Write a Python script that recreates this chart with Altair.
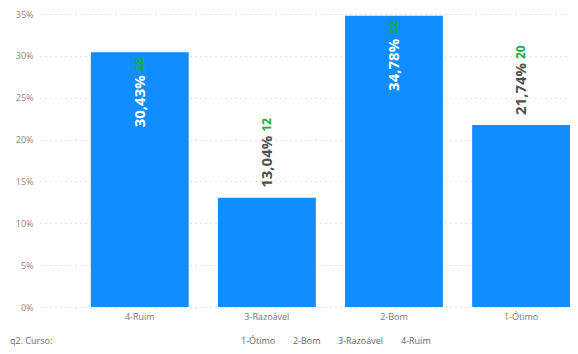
import altair as alt
import pandas as pd

# Data
categorias = ["4-Ruim", "3-Razoável", "2-Bom", "1-Ótimo"]
percentuais = [0.3043, 0.1304, 0.3478, 0.2174]
contagens = [28, 12, 32, 20]
legenda = ["1-Ótimo", "2-Bom", "3-Razoável", "4-Ruim"]
y_ticks = [0, 0.05, 0.10, 0.15, 0.20, 0.25, 0.30, 0.35]
rotulo_legenda = "q2. Curso:"

df = pd.DataFrame({
    "categoria": categorias,
    "pct": percentuais,
    "n": contagens,
})
df["rotulo"] = [f"{p*100:.2f}".replace(".", ",") + "%" for p in percentuais]
df["cont"] = [str(c) for c in contagens]

FONT = "Open Sans"
BLUE = "#118DFF"
GREEN = "#1AAB40"

base = alt.Chart(df).encode(
    x=alt.X(
        "categoria:N",
        sort=categorias,
        title=None,
        scale=alt.Scale(paddingInner=0.23, paddingOuter=0.2, align=1),
        axis=alt.Axis(labelAngle=0, domain=False, ticks=False, labelPadding=5,
                      labelFontSize=9, labelColor="#777777", labelFont=FONT),
    ),
    y=alt.Y(
        "pct:Q",
        title=None,
        scale=alt.Scale(domain=[0, 0.35]),
        axis=alt.Axis(values=y_ticks, format=".0%", domain=False, ticks=False,
                      labelPadding=7, labelFontSize=9, labelColor="#888888",
                      labelFont=FONT, grid=True, gridDash=[1, 4],
                      gridColor="#c8c8c8", gridWidth=1),
    ),
)

bars = base.mark_bar(stroke=None).encode(
    color=alt.Color(
        "categoria:N",
        scale=alt.Scale(domain=legenda, range=[BLUE] * len(legenda)),
        legend=alt.Legend(
            title=None, orient="none", direction="horizontal",
            legendX=192, legendY=322, symbolSize=0, symbolOpacity=0,
            symbolStrokeWidth=0, labelOffset=0, columnPadding=8,
            labelFontSize=9, labelColor="#666666", labelFont=FONT,
        ),
    )
)

inside = "datum.pct > 0.25"
outside = "datum.pct <= 0.25"
pct_txt = dict(angle=270, baseline="middle", font=FONT, fontSize=15, fontWeight="bold")
cnt_txt = dict(angle=270, baseline="middle", font=FONT, fontSize=12, fontWeight="bold")

pct_in = base.transform_filter(inside).mark_text(
    align="right", dx=-23, color="white", **pct_txt
).encode(text="rotulo:N")
cnt_in = base.transform_filter(inside).mark_text(
    align="right", dx=-5, color=GREEN, **cnt_txt
).encode(text="cont:N")
pct_out = base.transform_filter(outside).mark_text(
    align="left", dx=10, color="#505050", **pct_txt
).encode(text="rotulo:N")
cnt_out = base.transform_filter(outside).mark_text(
    align="left", dx=66, color=GREEN, **cnt_txt
).encode(text="cont:N")

titulo = alt.Chart(pd.DataFrame({"t": [rotulo_legenda]})).mark_text(
    align="left", baseline="middle", font=FONT, fontSize=9, color="#666666"
).encode(x=alt.value(-30), y=alt.value(327), text="t:N")

chart = alt.layer(bars, pct_in, cnt_in, pct_out, cnt_out, titulo).properties(
    width=530,
    height=293,
    autosize=alt.AutoSizeParams(type="none"),
    padding={"left": 32, "top": 6, "right": 0, "bottom": 39},
).configure_view(stroke=None)

chart.save("out.html", embed_options={"renderer": "svg", "actions": False})
